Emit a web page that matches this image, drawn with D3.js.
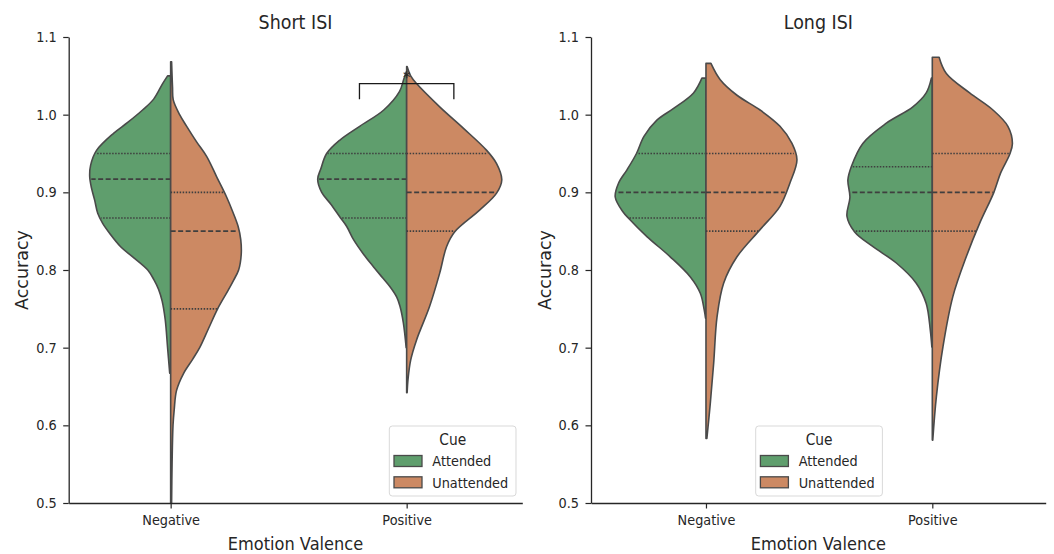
<!DOCTYPE html>
<html><head><meta charset="utf-8">
<script src="https://cdn.jsdelivr.net/npm/d3@7"></script>
<style>
body{margin:0;background:#fff}
svg{display:block;background:#fff}
text{font-family:"DejaVu Sans",sans-serif;fill:#262626}
</style>
</head><body>
<svg id="chart" width="1054" height="554"></svg>
<script>
// ---------------- data ----------------
const panelTitles = ["Short ISI", "Long ISI"];
const categories = ["Negative", "Positive"];
const cues = ["Attended", "Unattended"];
const cueColors = ["#5f9e6d", "#cc8963"];
const yTicks = [0.5, 0.6, 0.7, 0.8, 0.9, 1.0, 1.1];

// KDE half-width profiles (accuracy value, half width in category units)
const shortNegAttY = [0.667,0.70,0.736,0.76,0.775,0.787,0.80,0.817,0.83,0.847,0.86,0.873,0.89,0.905,0.92,0.935,0.954,0.976,0.99,1.006,1.02,1.04,1.05];
const shortNegAttW = [0.004,0.013,0.023,0.036,0.051,0.07,0.097,0.161,0.212,0.258,0.288,0.309,0.322,0.335,0.343,0.339,0.314,0.242,0.182,0.119,0.072,0.034,0.013];
const shortNegUnaY = [0.5,0.55,0.6,0.62,0.645,0.667,0.685,0.70,0.725,0.75,0.774,0.787,0.80,0.82,0.839,0.856,0.875,0.894,0.92,0.946,0.965,0.985,1.0,1.019,1.035,1.05,1.068];
const shortNegUnaW = [0.004,0.006,0.01,0.015,0.025,0.055,0.093,0.123,0.161,0.199,0.244,0.267,0.288,0.299,0.297,0.286,0.263,0.237,0.195,0.153,0.11,0.068,0.038,0.011,0.008,0.006,0.004];
const shortPosAttY = [0.70,0.732,0.753,0.765,0.779,0.79,0.804,0.82,0.839,0.856,0.867,0.885,0.9,0.917,0.93,0.95,0.967,0.985,1.006,1.03,1.045,1.055];
const shortPosAttW = [0.002,0.014,0.028,0.042,0.072,0.102,0.14,0.182,0.225,0.254,0.28,0.322,0.36,0.377,0.364,0.339,0.284,0.199,0.097,0.03,0.013,0.002];
const shortPosUnaY = [0.642,0.66,0.684,0.71,0.753,0.796,0.83,0.849,0.877,0.899,0.916,0.937,0.954,0.982,1.01,1.04,1.05,1.062];
const shortPosUnaW = [0.002,0.006,0.017,0.042,0.097,0.14,0.169,0.203,0.309,0.381,0.403,0.381,0.339,0.242,0.14,0.042,0.017,0.002];
const longNegAttY = [0.738,0.749,0.77,0.791,0.817,0.843,0.866,0.875,0.894,0.912,0.929,0.95,0.972,0.993,1.008,1.028,1.047];
const longNegAttW = [0.002,0.008,0.025,0.069,0.158,0.261,0.34,0.367,0.401,0.386,0.349,0.307,0.274,0.217,0.143,0.055,0.018];
const longNegUnaY = [0.583,0.628,0.68,0.74,0.783,0.817,0.852,0.882,0.912,0.942,0.963,0.985,1.006,1.025,1.045,1.066];
const longNegUnaW = [0.004,0.019,0.034,0.049,0.078,0.137,0.239,0.327,0.371,0.402,0.38,0.327,0.239,0.137,0.063,0.022];
const longPosAttY = [0.701,0.723,0.757,0.783,0.809,0.83,0.849,0.869,0.894,0.916,0.933,0.963,0.989,1.01,1.028,1.047];
const longPosAttW = [0.002,0.009,0.027,0.071,0.159,0.262,0.343,0.377,0.364,0.373,0.358,0.307,0.203,0.086,0.027,0.004];
const longPosUnaY = [0.581,0.637,0.701,0.766,0.817,0.86,0.9,0.925,0.949,0.963,0.985,1.006,1.028,1.053,1.074];
const longPosUnaW = [0.002,0.018,0.047,0.091,0.15,0.209,0.272,0.302,0.342,0.354,0.334,0.268,0.165,0.062,0.03];

// quartiles [Q1, median, Q3]
const shortNegAttQ = [0.867, 0.917, 0.95];
const shortNegUnaQ = [0.75, 0.85, 0.90];
const shortPosAttQ = [0.867, 0.917, 0.95];
const shortPosUnaQ = [0.85, 0.90, 0.95];
const longNegAttQ = [0.867, 0.90, 0.95];
const longNegUnaQ = [0.85, 0.90, 0.95];
const longPosAttQ = [0.85, 0.90, 0.933];
const longPosUnaQ = [0.85, 0.90, 0.95];

// significance annotation (Short ISI, Positive)
const sigLabel = "*";
const sigLevels = [1.02, 1.04];

// ---------------- layout ----------------
const svg = d3.select("#chart");
const yTop = 37, yBottom = 503;
const y = d3.scaleLinear().domain([0.5, 1.1]).range([yBottom, yTop]);
const panelsLayout = [
  {x0: 68.7, x1: 522.3, dom: [-0.432, 1.49]},
  {x0: 591, x1: 1045.7, dom: [-0.508, 1.501]}
];
const violins = [
  [
    [[shortNegAttY, shortNegAttW, shortNegAttQ], [shortNegUnaY, shortNegUnaW, shortNegUnaQ]],
    [[shortPosAttY, shortPosAttW, shortPosAttQ], [shortPosUnaY, shortPosUnaW, shortPosUnaQ]]
  ],
  [
    [[longNegAttY, longNegAttW, longNegAttQ], [longNegUnaY, longNegUnaW, longNegUnaQ]],
    [[longPosAttY, longPosAttW, longPosAttQ], [longPosUnaY, longPosUnaW, longPosUnaQ]]
  ]
];

function txt(g, x, yy, s, size, k, anchor) {
  return g.append("text")
    .attr("transform", `translate(${x},${yy}) scale(${k},1)`)
    .attr("text-anchor", anchor || "middle")
    .attr("font-size", size)
    .text(s);
}

const edge = "#4a4a4a";
const axisColor = "#262626";

panelsLayout.forEach((P, pi) => {
  const x = d3.scaleLinear().domain(P.dom).range([P.x0, P.x1]);
  const g = svg.append("g");

  violins[pi].forEach((pair, ci) => {
    pair.forEach((v, hi) => {
      const [vals, wids, qs] = v;
      const sign = hi === 0 ? -1 : 1;
      const pts = vals.map((val, i) => [x(ci + sign * wids[i]), y(val)]);
      const line = d3.line().curve(d3.curveCatmullRom.alpha(0.5));
      const cx = x(ci);
      const body = line(pts).replace(/^M/, "L");
      const d = `M${cx},${y(vals[0])}` + body + `L${cx},${y(vals[vals.length - 1])}Z`;
      g.append("path").attr("d", d)
        .attr("fill", cueColors[hi])
        .attr("stroke", edge).attr("stroke-width", 1.6)
        .attr("stroke-linejoin", "round");
      const wAt = d3.scaleLinear().domain(vals).range(wids);
      qs.forEach((q, qi) => {
        const w = wAt(q) * 0.985;
        g.append("line")
          .attr("x1", cx).attr("x2", x(ci + sign * w))
          .attr("y1", y(q)).attr("y2", y(q))
          .attr("stroke", "#3f3f3f")
          .attr("stroke-width", qi === 1 ? 1.7 : 1.6)
          .attr("stroke-dasharray", qi === 1 ? "5,2.5" : "1.5,1.5");
      });
    });
  });

  const ya = d3.axisLeft(y).tickValues(yTicks).tickFormat(d3.format(".1f"))
    .tickSize(5.5).tickSizeOuter(0);
  const yg = g.append("g").attr("transform", `translate(${P.x0},0)`).call(ya);
  yg.select(".domain").attr("stroke", axisColor).attr("stroke-width", 1.3);
  yg.selectAll(".tick line").attr("stroke", axisColor).attr("stroke-width", 1.2);
  yg.selectAll(".tick text")
    .attr("x", -12 / 0.92).attr("transform", "scale(0.92,1)")
    .attr("font-size", 14).attr("font-family", "DejaVu Sans").attr("fill", "#262626");

  const xa = d3.axisBottom(x).tickValues(categories.map((c, i) => i))
    .tickFormat(i => categories[i]).tickSize(5.5).tickSizeOuter(0);
  const xg = g.append("g").attr("transform", `translate(0,${yBottom})`).call(xa);
  xg.select(".domain").attr("stroke", axisColor).attr("stroke-width", 1.3);
  xg.selectAll(".tick line").attr("stroke", axisColor).attr("stroke-width", 1.2);
  xg.selectAll(".tick text")
    .attr("y", 11.8).attr("transform", "scale(0.92,1)")
    .attr("font-size", 14).attr("font-family", "DejaVu Sans").attr("fill", "#262626");

  const cxMid = (P.x0 + P.x1) / 2;
  txt(g, cxMid, 29, panelTitles[pi], 19, 0.92);
  txt(g, cxMid, 550, "Emotion Valence", 18.2, 0.89);
  g.append("text")
    .attr("transform", `translate(${P.x0 - 40.5},${(yTop + yBottom) / 2}) rotate(-90)`)
    .attr("text-anchor", "middle").attr("font-size", 17.5).text("Accuracy");

  if (pi === 0) {
    const xa0 = x(1 - 0.2), xa1 = x(1 + 0.2);
    g.append("path")
      .attr("d", `M${xa0},${y(sigLevels[0])}V${y(sigLevels[1])}H${xa1}V${y(sigLevels[0])}`)
      .attr("fill", "none").attr("stroke", "#1a1a1a").attr("stroke-width", 1.3);
    txt(g, x(1), y(sigLevels[1]) - 1, sigLabel, 15, 1).attr("fill", "#1a1a1a");
  }

  const lx = pi === 0 ? 389.3 : 755.7, ly = 426;
  const lg = g.append("g").attr("transform", `translate(${lx},${ly})`);
  lg.append("rect").attr("width", 126.7).attr("height", 70).attr("rx", 3)
    .attr("fill", "#fff").attr("fill-opacity", 0.8)
    .attr("stroke", "#d9d9d9").attr("stroke-width", 1);
  txt(lg, 63.4, 19, "Cue", 15, 0.92);
  cues.forEach((c, i) => {
    const cy = 35 + i * 21.3;
    lg.append("rect").attr("x", 4.7).attr("y", cy - 5.5).attr("width", 28).attr("height", 11)
      .attr("fill", cueColors[i]).attr("stroke", edge).attr("stroke-width", 1.3);
    txt(lg, 43, cy + 5.2, c, 14, 0.92, "start");
  });
});
</script>
</body></html>
